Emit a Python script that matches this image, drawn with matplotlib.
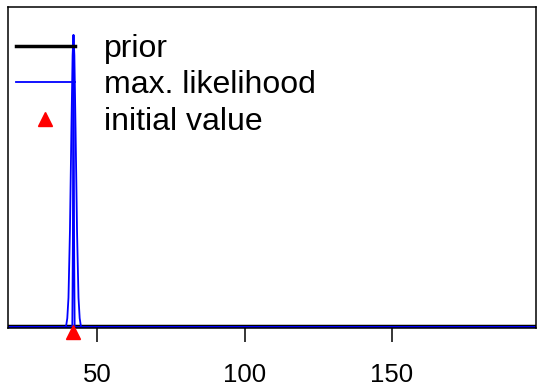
import numpy as np
import matplotlib
matplotlib.use("Agg")
import matplotlib.pyplot as plt
import matplotlib.transforms as transforms

plt.rcParams['font.family'] = ['Liberation Sans', 'DejaVu Sans']

# prior density (practically flat, close to zero on this scale)
prior_x = [19.8, 198.8]
prior_y = [0.004, 0.004]

# max. likelihood curves, scaled to a peak of 1
ml_wide_x = [19.8, 39.4, 39.6, 39.9, 40.3, 40.8, 41.3, 41.7, 42.0, 42.3, 42.7, 43.2, 43.7, 44.1, 44.4, 44.6, 198.8]
ml_wide_y = [0.0, 0.0, 0.01, 0.03, 0.10, 0.33, 0.68, 0.93, 1.0, 0.93, 0.68, 0.33, 0.10, 0.03, 0.01, 0.0, 0.0]
ml_narrow_x = [19.8, 41.6, 41.8, 41.9, 42.0, 42.1, 42.2, 42.4, 198.8]
ml_narrow_y = [0.0, 0.0, 0.3, 0.74, 1.0, 0.74, 0.3, 0.0, 0.0]

# initial value
init_x = [42.0]
init_y = [0.0]

x_ticks = [50, 100, 150]

fig = plt.figure(figsize=(5.37, 3.88), dpi=100)
ax = fig.add_axes([8/537, (388-328)/388, (536-8)/537, (328-7)/388])

ax.plot(prior_x, prior_y, color='black', lw=2.5, label='prior')
ax.plot(ml_wide_x, ml_wide_y, color='blue', lw=1.3, label='max. likelihood')
ax.plot(ml_narrow_x, ml_narrow_y, color='blue', lw=1.3)

# triangle sits just below the box, like R with xpd
offset = transforms.ScaledTranslation(0, -5/100, fig.dpi_scale_trans)
ax.plot(init_x, init_y, ls='none', marker='^', ms=9.8, color='red',
        transform=ax.transData + offset, clip_on=False, zorder=5)
ax.plot([], [], ls='none', marker='^', ms=9.8, color='red', label='initial value')

ax.set_xlim(19.8, 198.8)
ax.set_ylim(-0.0034, 1.096)
ax.set_yticks([])
ax.set_xticks(x_ticks)
ax.tick_params(axis='x', length=10.3, width=1.1, pad=15, labelsize=18.5, color='black')
for s in ax.spines.values():
    s.set_linewidth(1.1)
    s.set_color('black')

ax.legend(loc='upper left', bbox_to_anchor=(0.0, 1 - 19/321), frameon=False,
          fontsize=23, handlelength=1.84, handletextpad=0.9, labelspacing=0.2,
          borderaxespad=0, borderpad=0.25)

fig.savefig('out.png', dpi=100)
